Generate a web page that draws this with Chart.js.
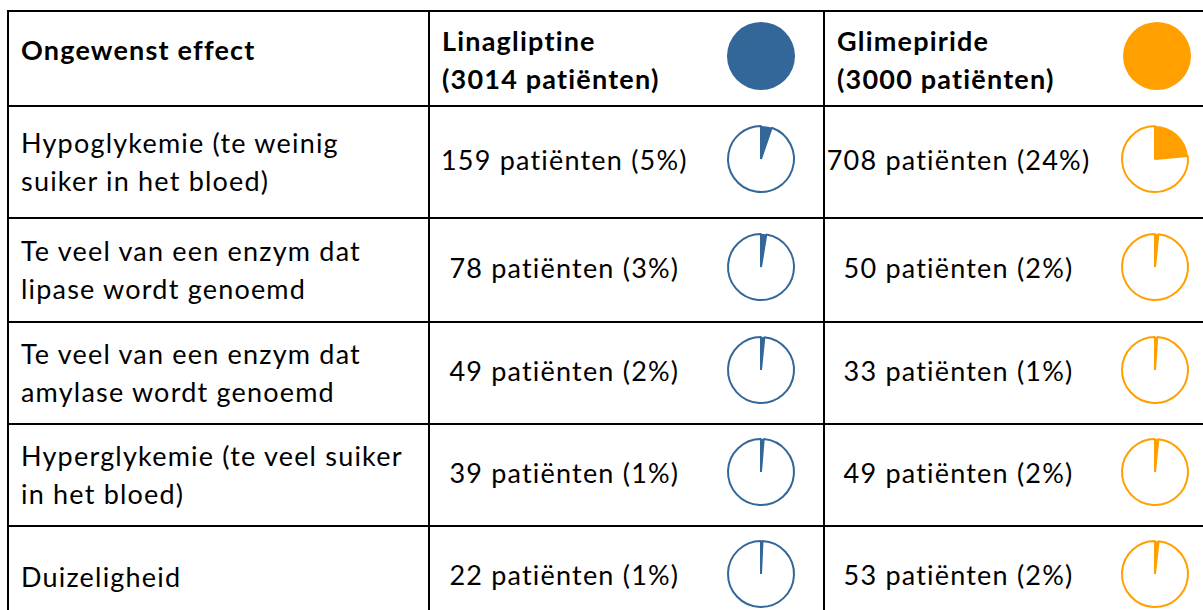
<!DOCTYPE html>
<html>
<head>
<meta charset="utf-8">
<script src="https://cdn.jsdelivr.net/npm/chart.js@4"></script>
<style>
  html, body { margin: 0; padding: 0; background: #fff; overflow: hidden; width: 1203px; height: 610px; }
  body { font-family: Lato, "Open Sans", sans-serif; font-size: 27px; letter-spacing: 1.2px; color: #000; }
  table { position: absolute; left: 7px; top: 10px; width: 1212px; border-collapse: collapse; table-layout: fixed; }
  td { border: 2px solid #000; padding: 0; vertical-align: middle; line-height: 38px; }
  td.effect { padding-left: 12px; }
  th { border: 2px solid #000; padding: 0; font-weight: bold; text-align: left; vertical-align: top; line-height: 38px; }
  .cell { display: flex; align-items: center; height: 100%; }
  .num { width: 270px; text-align: center; white-space: nowrap; }
  .num.glim { width: 267px; }
  .pie { width: 125px; display: flex; justify-content: center; align-items: center; }
  .hdr { width: 258px; padding-left: 12px; white-space: nowrap; }
  canvas { display: block; }
</style>
</head>
<body>
<table id="tbl">
  <colgroup><col style="width:421px"><col style="width:395px"><col style="width:396px"></colgroup>
  <thead><tr id="head" style="height:95px"></tr></thead>
  <tbody id="body"></tbody>
</table>
<script>
// Data
const columnHeader = 'Ongewenst effect';
const drugs = ['Linagliptine', 'Glimepiride'];
const drugTotals = [3014, 3000];
const drugColors = ['#336699', '#FF9F00'];
const effects = [
  'Hypoglykemie (te weinig<br>suiker in het bloed)',
  'Te veel van een enzym dat<br>lipase wordt genoemd',
  'Te veel van een enzym dat<br>amylase wordt genoemd',
  'Hyperglykemie (te veel suiker<br>in het bloed)',
  'Duizeligheid'
];
const linaCounts = [159, 78, 49, 39, 22];
const linaPct = [5, 3, 2, 1, 1];
const glimCounts = [708, 50, 33, 49, 53];
const glimPct = [24, 2, 1, 2, 2];
const rowHeights = [112, 104, 102, 102, 102];

const counts = [linaCounts, glimCounts];
const pcts = [linaPct, glimPct];

function makePie(canvas, values, colors, borders) {
  new Chart(canvas, {
    type: 'pie',
    data: {
      datasets: [{
        data: values,
        backgroundColor: colors,
        borderColor: borders.color,
        borderWidth: borders.width,
      }]
    },
    options: {
      responsive: false,
      animation: false,
      devicePixelRatio: 1,
      layout: { padding: 3 },
      plugins: { legend: { display: false }, tooltip: { enabled: false } },
    },
  });
}

function newCanvas() {
  const c = document.createElement('canvas');
  c.width = 74; c.height = 74;
  c.style.width = '74px'; c.style.height = '74px';
  return c;
}

// Header row
const head = document.getElementById('head');
const th0 = document.createElement('th');
th0.style.paddingLeft = '12px';
th0.style.paddingTop = '19px';
th0.textContent = columnHeader;
head.appendChild(th0);
drugs.forEach((d, k) => {
  const th = document.createElement('th');
  th.style.paddingTop = '10px';
  const wrap = document.createElement('div');
  wrap.className = 'cell';
  wrap.style.alignItems = 'flex-start';
  const txt = document.createElement('div');
  txt.className = 'hdr';
  txt.innerHTML = d + '<br>(' + drugTotals[k] + ' patiënten)';
  const pc = document.createElement('div');
  pc.className = 'pie';
  pc.style.marginTop = '-3px';
  const cv = newCanvas();
  pc.appendChild(cv);
  wrap.appendChild(txt);
  wrap.appendChild(pc);
  th.appendChild(wrap);
  head.appendChild(th);
  makePie(cv, [drugTotals[k]], [drugColors[k]], { color: drugColors[k], width: 0 });
});

// Body rows
const body = document.getElementById('body');
effects.forEach((e, i) => {
  const tr = document.createElement('tr');
  tr.style.height = rowHeights[i] + 'px';
  const td0 = document.createElement('td');
  td0.className = 'effect';
  td0.innerHTML = e;
  tr.appendChild(td0);
  drugs.forEach((d, k) => {
    const td = document.createElement('td');
    const wrap = document.createElement('div');
    wrap.className = 'cell';
    const txt = document.createElement('div');
    txt.className = 'num' + (k === 1 ? ' glim' : '');
    txt.style.marginBottom = '4px';
    txt.textContent = counts[k][i] + ' patiënten (' + pcts[k][i] + '%)';
    const pc = document.createElement('div');
    pc.className = 'pie';
    pc.style.marginBottom = '6px';
    const cv = newCanvas();
    pc.appendChild(cv);
    wrap.appendChild(txt);
    wrap.appendChild(pc);
    td.appendChild(wrap);
    tr.appendChild(td);
    makePie(cv, [counts[k][i], drugTotals[k] - counts[k][i]],
      [drugColors[k], '#ffffff'],
      { color: drugColors[k], width: [0, 2] });
  });
  body.appendChild(tr);
});
</script>
</body>
</html>
